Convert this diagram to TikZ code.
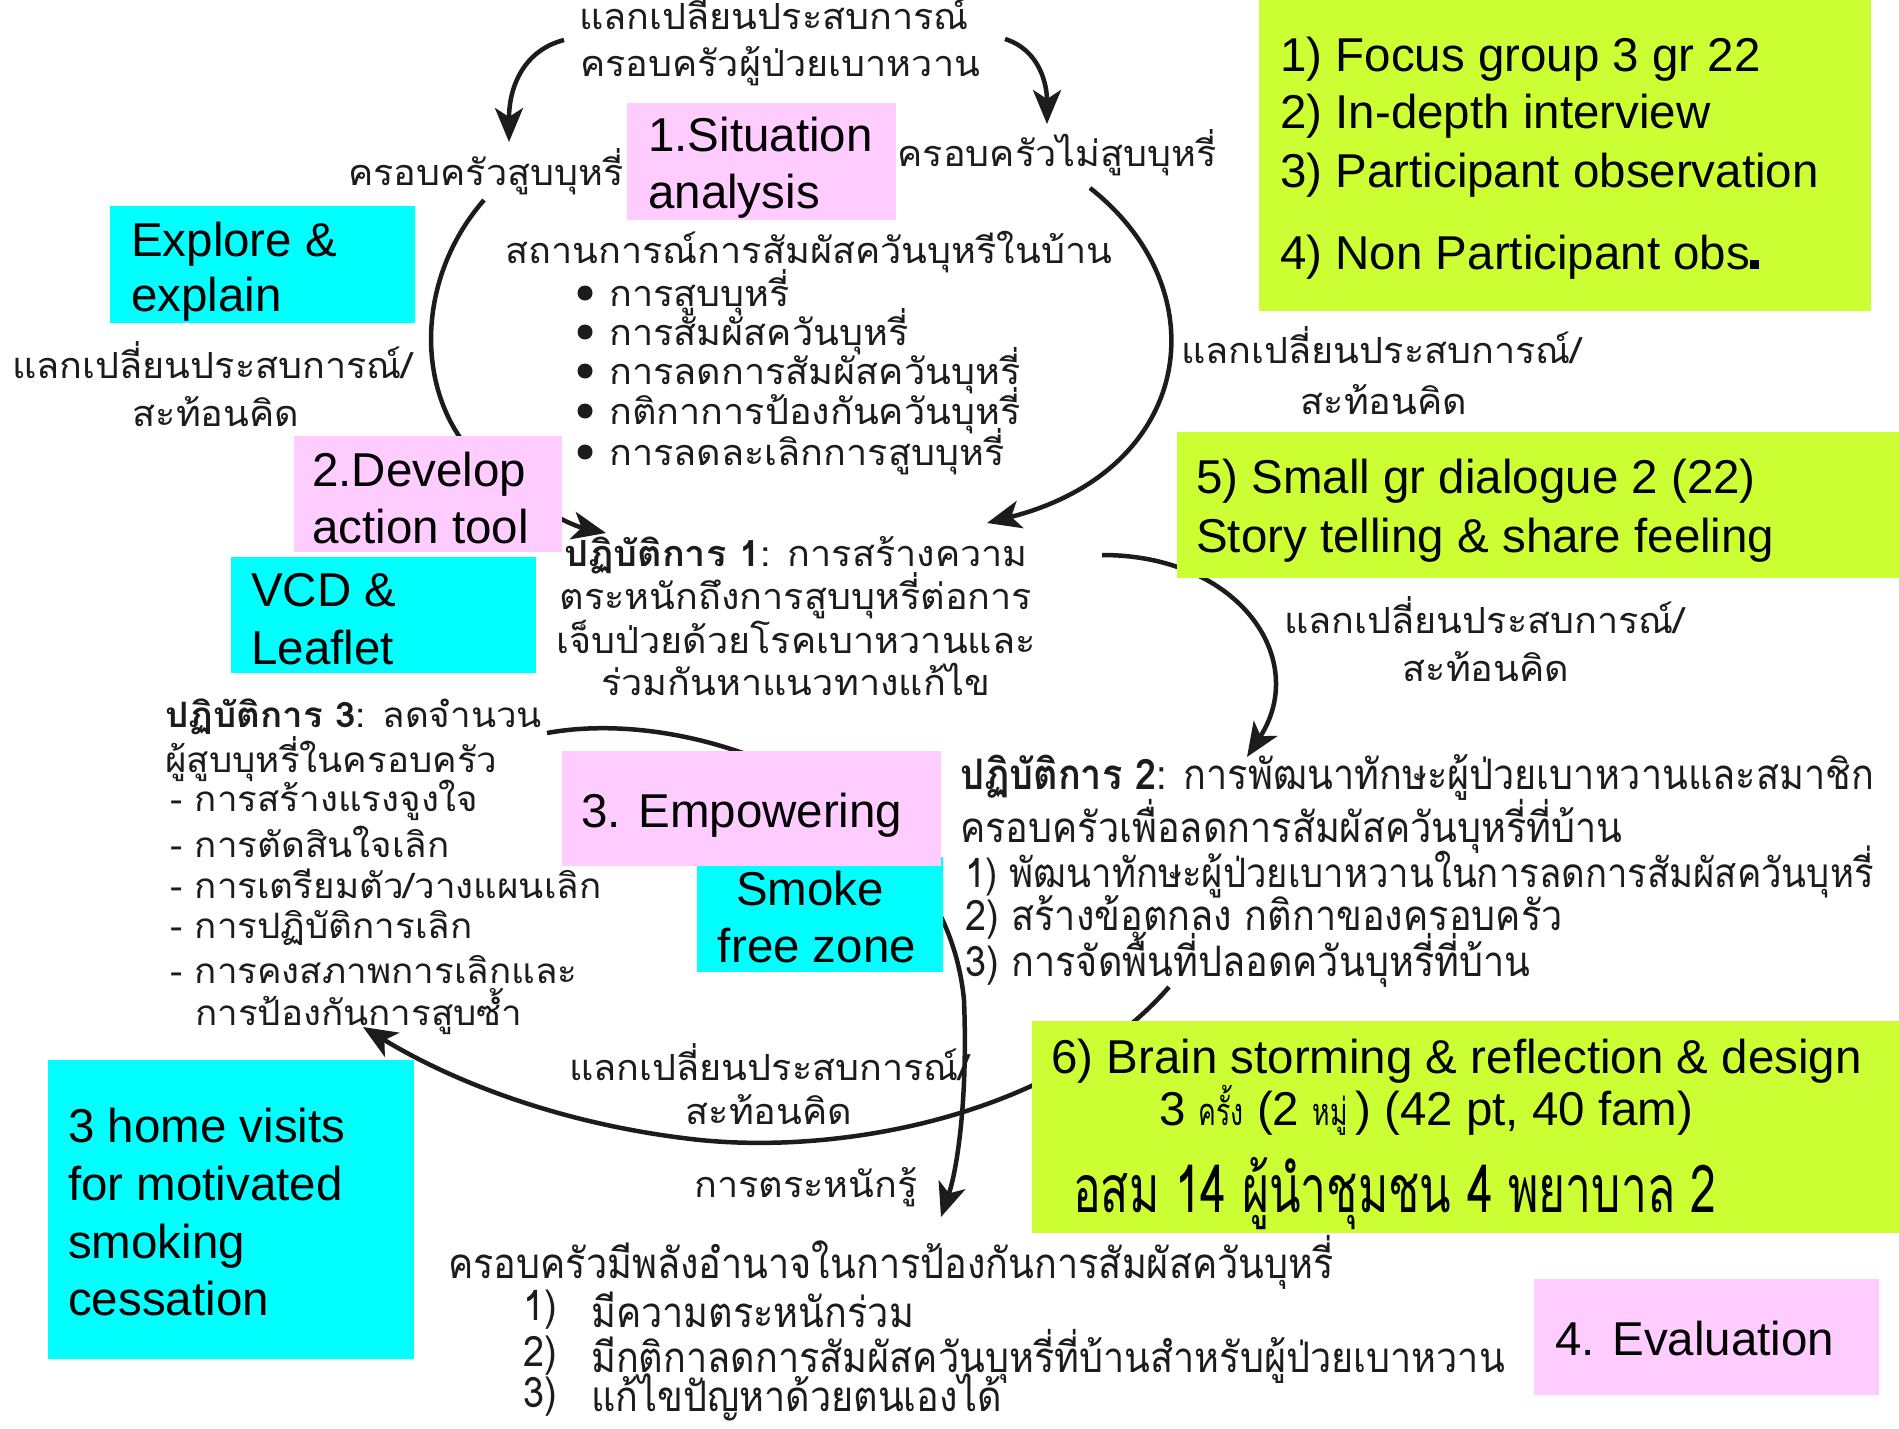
\documentclass[tikz,border=0pt]{standalone}
\usepackage{fontspec}
\usetikzlibrary{arrows.meta}
\setmainfont{Liberation Sans}
\newfontfamily\thai[Script=Thai,FakeStretch=1.05]{Loma}
\newfontfamily\thaiprint[Script=Thai,FakeStretch=0.9]{Loma}
\newfontfamily\thaicond[Script=Thai,FakeStretch=0.7]{Loma}
\definecolor{lime}{RGB}{204,255,51}
\definecolor{aqua}{RGB}{0,255,255}
\definecolor{pinkbox}{RGB}{255,204,255}
\definecolor{ink}{RGB}{28,28,28}

\tikzset{
  scan/.style={font=\thai\fontsize{36}{40}\selectfont, text=ink, inner sep=0pt, anchor=west},
  scanl/.style={scan, font=\thai\fontsize{35}{40}\selectfont},
  scanc/.style={font=\thaiprint\fontsize{42}{46}\selectfont, text=ink, inner sep=0pt, anchor=west},
  flow/.style={draw=ink, line width=4.5pt, -{Stealth[length=34pt,width=28pt,inset=9pt]}},
  panel/.style={inner sep=0pt, anchor=north west, draw=none},
  en/.style={font=\fontsize{47.5}{57}\selectfont, inner sep=0pt, anchor=west, text=black,
             text height=35pt, text depth=10pt, yshift=-4.5pt},
  dot/.style={circle, fill=ink, inner sep=0pt, minimum width=15pt, minimum height=13pt},
}

\begin{document}
\begin{tikzpicture}[x=1pt, y=-1pt]
\useasboundingbox (0,0) rectangle (1899,1428);
\fill[white] (0,0) rectangle (1899,1428);

% ---- cycle arrows ----
\coordinate (a1s) at (564,40);   \coordinate (a1e) at (509,142);
\coordinate (a2s) at (1005,39);  \coordinate (a2e) at (1047,124);
\coordinate (a3s) at (484,200);  \coordinate (a3e) at (606,533);
\coordinate (a4s) at (1090,188); \coordinate (a4e) at (987,523);
\coordinate (a5s) at (1102,555); \coordinate (a5e) at (1247,757);
\coordinate (a6s) at (547,733);  \coordinate (a6e) at (941,1217);
\coordinate (a7s) at (1169,987); \coordinate (a7e) at (363,1027);

\draw[flow] (a1s) .. controls (525,50) and (509,85) .. (a1e);
\draw[flow] (a2s) .. controls (1040,50) and (1047,85) .. (a2e);
\draw[flow] (a3s) .. controls (410,285) and (415,410) .. (490,470) .. controls (530,505) and (570,525) .. (a3e);
\draw[flow] (a4s) .. controls (1220,290) and (1195,470) .. (a4e);
\draw[flow] (a5s) .. controls (1240,555) and (1310,660) .. (a5e);
\draw[flow] (a6s) .. controls (700,705) and (945,800) .. (964,1000) .. controls (968,1100) and (957,1170) .. (a6e);
\draw[flow] (a7s) .. controls (1060,1112) and (850,1155) .. (700,1140) .. controls (560,1125) and (450,1080) .. (a7e);

% ---- printed texts ----
\node[scan, anchor=center] (t1) at (774,11) {แลกเปลี่ยนประสบการณ์};
\node[scan, anchor=center] (t2) at (780,66) {ครอบครัวผู้ป่วยเบาหวาน};
\node[scan] (t3) at (348,172) {ครอบครัวสูบบุหรี่};
\node[scan, anchor=east] (t4) at (1217,153) {ครอบครัวไม่สูบบุหรี่};
\node[scan] (t5) at (505,252) {สถานการณ์การสัมผัสควันบุหรีในบ้าน};
\node[dot] (d1) at (585,293) {};
\node[dot] (d2) at (585,332) {};
\node[dot] (d3) at (585,371) {};
\node[dot] (d4) at (585,411) {};
\node[dot] (d5) at (585,452) {};
\node[scan] (b1) at (609,293) {การสูบบุหรี่};
\node[scan] (b2) at (609,332) {การสัมผัสควันบุหรี่};
\node[scan] (b3) at (609,371) {การลดการสัมผัสควันบุหรี่};
\node[scan] (b4) at (609,411) {กติกาการป้องกันควันบุหรี่};
\node[scan] (b5) at (609,452) {การลดละเลิกการสูบบุหรี่};

\node[scan] (l1) at (12,360) {แลกเปลี่ยนประสบการณ์/};
\node[scan, anchor=center] (l2) at (216,412) {สะท้อนคิด};
\node[scan] (r1) at (1181,345) {แลกเปลี่ยนประสบการณ์/};
\node[scan, anchor=center] (r2) at (1384,400) {สะท้อนคิด};

\node[scan, anchor=center] (p1a) at (796,555) {{\bfseries ปฏิบัติการ 1}: การสร้างความ};
\node[scan, anchor=center] (p1b) at (796,596) {ตระหนักถึงการสูบบุหรี่ต่อการ};
\node[scan, anchor=center] (p1c) at (796,637) {เจ็บป่วยด้วยโรคเบาหวานและ};
\node[scan, anchor=center] (p1d) at (796,679) {ร่วมกันหาแนวทางแก้ไข};

\node[scan] (s1) at (1284,615) {แลกเปลี่ยนประสบการณ์/};
\node[scan, anchor=center] (s2) at (1486,667) {สะท้อนคิด};

\node[scanl] (p3a) at (165,717) {{\bfseries ปฏิบัติการ 3}: ลดจำนวน};
\node[scanl] (p3b) at (165,759) {ผู้สูบบุหรี่ในครอบครัว};
\node[scanl] (p3c) at (170,800) {- การสร้างแรงจูงใจ};
\node[scanl] (p3d) at (170,842) {- การตัดสินใจเลิก};
\node[scanl] (p3e) at (170,884) {- การเตรียมตัว/วางแผนเลิก};
\node[scanl] (p3f) at (170,928) {- การปฏิบัติการเลิก};
\node[scanl] (p3g) at (170,970) {- การคงสภาพการเลิกและ};
\node[scanl] (p3h) at (195,1012) {การป้องกันการสูบซ้ำ};

\node[scanc] (p2a) at (960,777) {{\bfseries ปฏิบัติการ 2}: การพัฒนาทักษะผู้ป่วยเบาหวานและสมาชิก};
\node[scanc] (p2b) at (960,826) {ครอบครัวเพื่อลดการสัมผัสควันบุหรี่ที่บ้าน};
\node[scanc, font=\thaiprint\fontsize{40.5}{46}\selectfont] (p2c) at (965,872) {1) พัฒนาทักษะผู้ป่วยเบาหวานในการลดการสัมผัสควันบุหรี่};
\node[scanc] (p2d) at (965,917) {2) สร้างข้อตกลง กติกาของครอบครัว};
\node[scanc] (p2e) at (965,960) {3) การจัดพื้นที่ปลอดควันบุหรี่ที่บ้าน};

\node[scan] (m1) at (569,1062) {แลกเปลี่ยนประสบการณ์/};
\node[scan, anchor=center] (m2) at (769,1110) {สะท้อนคิด};
\node[scan] (aw) at (694,1187) {การตระหนักรู้};

\node[scanc] (f0) at (448,1262) {ครอบครัวมีพลังอำนาจในการป้องกันการสัมผัสควันบุหรี่};
\node[scanc] (f1n) at (523,1310) {1)};
\node[scanc] (f1) at (591,1310) {มีความตระหนักร่วม};
\node[scanc] (f2n) at (523,1356) {2)};
\node[scanc] (f2) at (591,1356) {มีกติกาลดการสัมผัสควันบุหรี่ที่บ้านสำหรับผู้ป่วยเบาหวาน};
\node[scanc] (f3n) at (523,1397) {3)};
\node[scanc] (f3) at (591,1397) {แก้ไขปัญหาด้วยตนเองได้};

% ---- coloured panels ----
\node[panel, fill=lime, minimum width=612pt, minimum height=311pt] (g1) at (1259,0) {};
\node[en] (g1a) at (1280,54) {1) Focus group 3 gr 22};
\node[en] (g1b) at (1280,111) {2) In-depth interview};
\node[en] (g1c) at (1280,170) {3) Participant observation};
\node[en] (g1d) at (1280,252) {4) Non Participant obs\rule{9pt}{9pt}};

\node[panel, fill=pinkbox, minimum width=269pt, minimum height=117pt] (k1) at (627,103) {};
\node[en] (k1a) at (648,134) {1.Situation};
\node[en] (k1b) at (648,191) {analysis};

\node[panel, fill=aqua, minimum width=305pt, minimum height=117pt] (c1) at (110,206) {};
\node[en] (c1a) at (131,239) {Explore \&};
\node[en] (c1b) at (131,294) {explain};

\node[panel, fill=pinkbox, minimum width=268pt, minimum height=116pt] (k2) at (294,436) {};
\node[en] (k2a) at (312,469) {2.Develop};
\node[en] (k2b) at (312,526) {action tool};

\node[panel, fill=aqua, minimum width=305pt, minimum height=116pt] (c2) at (231,557) {};
\node[en] (c2a) at (251,589) {VCD \&};
\node[en] (c2b) at (251,647) {Leaflet};

\node[panel, fill=lime, minimum width=722pt, minimum height=146pt] (g2) at (1177,432) {};
\node[en] (g2a) at (1196,476) {5) Small gr dialogue 2 (22)};
\node[en] (g2b) at (1196,535) {Story telling \& share feeling};

\node[panel, fill=aqua, minimum width=246pt, minimum height=115pt] (c3) at (697,857) {};
\node[en, anchor=center] (c3a) at (810,888) {Smoke};
\node[en, anchor=center] (c3b) at (817,945) {free zone};

\node[panel, fill=pinkbox, minimum width=379pt, minimum height=115pt] (k3) at (562,751) {};
\node[en] (k3a) at (581,810) {3. Empowering};

\node[panel, fill=lime, minimum width=867pt, minimum height=212pt] (g3) at (1032,1021) {};
\node[en] (g3a) at (1051,1056) {6) Brain storming \& reflection \& design};
\node[en] (g3b) at (1159,1108) {3 {\thaicond\fontsize{38}{40}\selectfont ครั้ง} (2 {\thaicond\fontsize{38}{40}\selectfont หมู่}\,) (42 pt, 40 fam)};
\node[scanc, text=black, font=\thaicond\fontsize{66}{70}\selectfont] (g3c) at (1073,1194) {อสม 14 ผู้นำชุมชน 4 พยาบาล 2};

\node[panel, fill=aqua, minimum width=366pt, minimum height=299pt] (c4) at (48,1060) {};
\node[en] (c4a) at (68,1125) {3 home visits};
\node[en] (c4b) at (68,1183) {for motivated};
\node[en] (c4c) at (68,1241) {smoking};
\node[en] (c4d) at (68,1298) {cessation};

\node[panel, fill=pinkbox, minimum width=345pt, minimum height=116pt] (k4) at (1534,1279) {};
\node[en] (k4a) at (1555,1338) {4. Evaluation};
\end{tikzpicture}
\end{document}
